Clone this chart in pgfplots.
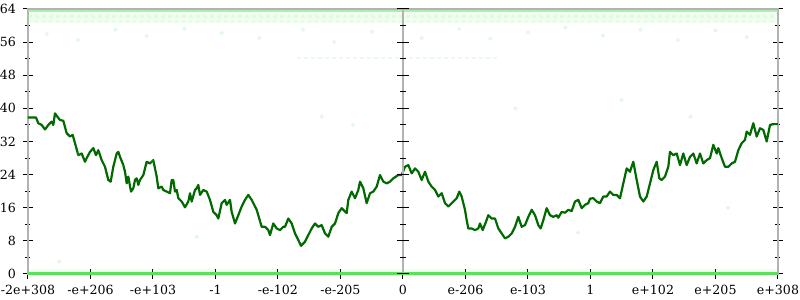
\documentclass[border=0pt]{standalone}
\usepackage{fontspec}
\setmainfont{DejaVu Serif}
\usepackage{pgfplots}
\pgfplotsset{compat=1.18}
\definecolor{lg}{RGB}{0,105,0}
\definecolor{bg}{RGB}{90,225,90}
\begin{document}
\begin{tikzpicture}
\begin{axis}[name=ax, scale only axis, width=375pt, height=132.5pt,
  xmin=-6, xmax=6, ymin=0, ymax=64, clip=false,
  xtick={-6,-5,...,6},
  xticklabels={-2e+308,-e+206,-e+103,-1,-e-102,-e-205,0,e-206,e-103,1,e+102,e+205,e+308},
  ytick={0,8,...,64}, minor ytick={4,12,...,60},
  tick align=center, xtick pos=bottom, ytick pos=both, yticklabel pos=left,
  major tick length=5pt, minor tick length=2.5pt,
  tick style={black, line width=0.5pt},
  axis line style={black!30, line width=1pt},
  ticklabel style={font=\fontsize{6.3}{7}\selectfont},
  xticklabel style={yshift=0.5pt},
  /pgf/number format/assume math mode=true,
]
% faint density bands
\addplot[draw=none, fill=bg, fill opacity=0.08] coordinates {(-6,60.5)(6,60.5)(6,63.8)(-6,63.8)} -- cycle;
\addplot[draw=none, fill=bg, fill opacity=0.08] coordinates {(-6,0)(6,0)(6,1.2)(-6,1.2)} -- cycle;
\addplot[bg!60!white, line width=1pt, opacity=0.8] coordinates {(-6,63.6)(6,63.6)};
\addplot[bg!40!white, line width=1.2pt, dash pattern=on 2pt off 1.5pt, opacity=0.3] coordinates {(-6,62.2)(6,62.2)};
\addplot[bg!40!white, line width=1.2pt, dash pattern=on 1.5pt off 2pt, opacity=0.2] coordinates {(-6,61)(6,61)};
\addplot[bg!30!white, line width=1pt, dash pattern=on 2pt off 1.5pt, opacity=0.4] coordinates {(-1.7,52.2)(1.5,52.2)};
\addplot[only marks, mark=*, mark size=0.9pt, color=bg, opacity=0.12] coordinates {
(-5.7,58)(-5.2,56.5)(-4.6,59)(-4.1,57.5)(-3.5,59.3)(-2.9,58.2)(-2.3,57)(-1.6,59)(-1.1,56)(-0.5,58.5)(0.3,57)(0.9,59.2)(1.4,56.8)(2.0,58.4)(2.6,59.5)(3.2,57.6)(3.8,59)(4.4,56.5)(5.0,58.8)(5.5,57.2)
(-5.2,29)(-4.5,26)(-4.0,27.2)(-1.3,38)(-0.8,36)(1.8,40)(3.5,42)(4.6,38)(5.2,16)(-5.5,3)(2.8,10)(-3.3,9)};
\addplot[bg, line width=1.5pt] coordinates {(-6,0)(6,0)};
% main series
\addplot[lg, line width=1.1pt, line join=round] coordinates {
(-6,37.8)(-5.872,37.8)(-5.835,36.4)(-5.781,36.0)(-5.728,34.9)(-5.675,36.0)(-5.621,36.8)(-5.595,36.0)(-5.568,38.8)(-5.541,38.2)
(-5.488,37.2)(-5.435,37.0)(-5.381,34.0)(-5.328,33.2)(-5.285,33.6)(-5.248,31.6)(-5.195,28.7)(-5.141,29.1)(-5.088,27.1)(-5.061,28.0)
(-5.008,29.5)(-4.955,30.4)(-4.912,28.7)(-4.875,29.9)(-4.821,27.5)(-4.768,25.9)(-4.715,22.7)(-4.677,22.3)(-4.635,25.9)(-4.581,29.1)
(-4.555,29.5)(-4.528,28.3)(-4.475,26.3)(-4.448,24.7)(-4.421,21.9)(-4.395,23.5)(-4.352,19.9)(-4.315,20.7)(-4.288,22.7)(-4.261,23.1)
(-4.235,21.5)(-4.208,22.7)(-4.155,23.9)(-4.101,27.1)(-4.048,26.7)(-3.995,27.5)(-3.941,23.5)(-3.915,20.7)(-3.861,21.1)(-3.835,20.3)
(-3.781,19.9)(-3.728,19.5)(-3.701,22.7)(-3.675,22.7)(-3.648,19.9)(-3.621,20.3)(-3.595,18.3)(-3.541,17.5)(-3.488,16.1)(-3.435,17.5)
(-3.408,19.5)(-3.381,17.5)(-3.328,20.3)(-3.301,20.7)(-3.275,21.5)(-3.248,19.1)(-3.195,20.3)(-3.141,19.9)(-3.088,17.9)(-3.035,15.0)
(-2.981,14.2)(-2.955,13.4)(-2.901,17.1)(-2.848,17.9)(-2.821,16.7)(-2.768,17.9)(-2.741,15.0)(-2.688,12.2)(-2.635,14.2)(-2.581,16.3)
(-2.528,17.9)(-2.475,19.1)(-2.421,17.9)(-2.341,15.5)(-2.261,11.4)(-2.208,11.4)(-2.155,10.6)(-2.128,9.4)(-2.075,12.2)(-2.021,11.0)
(-1.968,10.6)(-1.915,11.4)(-1.888,11.4)(-1.835,13.4)(-1.781,12.2)(-1.728,9.8)(-1.675,8.2)(-1.632,6.8)(-1.568,7.8)(-1.515,9.4)
(-1.461,11.0)(-1.408,12.2)(-1.355,11.4)(-1.301,11.8)(-1.248,9.8)(-1.195,9.0)(-1.141,11.4)(-1.088,12.2)(-1.035,14.7)(-0.981,15.9)
(-0.901,14.7)(-0.875,17.9)(-0.821,19.9)(-0.768,18.3)(-0.715,20.3)(-0.688,22.3)(-0.635,20.7)(-0.581,17.1)(-0.528,19.5)(-0.475,19.9)
(-0.421,21.1)(-0.368,23.9)(-0.315,22.3)(-0.261,21.9)(-0.208,22.3)(-0.155,23.1)(-0.075,23.9)(-0.021,23.9)(0.032,25.9)(0.085,26.3)
(0.139,24.3)(0.192,25.5)(0.245,24.7)(0.299,22.7)(0.352,24.7)(0.405,22.3)(0.459,21.1)(0.512,20.3)(0.565,18.7)(0.619,19.5)
(0.672,17.1)(0.725,16.3)(0.779,17.1)(0.859,18.3)(0.901,19.9)(0.939,18.7)(0.992,15.5)(1.019,13.0)(1.045,11.0)(1.099,11.0)
(1.152,10.6)(1.205,11.0)(1.232,12.2)(1.275,10.6)(1.328,12.6)(1.365,14.2)(1.419,13.4)(1.472,13.4)(1.525,11.0)(1.579,9.8)
(1.632,8.6)(1.685,9.0)(1.739,9.8)(1.792,11.4)(1.845,13.8)(1.899,11.4)(1.952,11.8)(2.005,13.8)(2.059,15.5)(2.112,14.2)
(2.165,11.8)(2.203,11.0)(2.245,13.0)(2.299,15.9)(2.352,14.2)(2.405,13.8)(2.459,14.2)(2.485,13.6)(2.539,15.0)(2.592,14.8)
(2.645,15.5)(2.699,15.2)(2.752,17.5)(2.805,17.9)(2.859,15.9)(2.912,16.7)(2.965,17.1)(2.992,18.2)(3.045,18.3)(3.099,17.5)
(3.152,17.1)(3.205,18.7)(3.259,18.7)(3.312,19.9)(3.365,19.1)(3.419,19.1)(3.472,18.3)(3.525,21.9)(3.579,25.5)(3.632,24.7)
(3.685,27.1)(3.739,22.7)(3.792,18.7)(3.845,17.5)(3.899,18.7)(3.952,21.9)(4.005,25.1)(4.059,27.1)(4.101,23.1)(4.139,22.7)
(4.192,23.5)(4.245,25.9)(4.272,29.5)(4.325,28.7)(4.379,29.1)(4.432,26.3)(4.485,29.1)(4.539,26.3)(4.592,28.3)(4.645,29.1)
(4.699,26.7)(4.752,29.1)(4.805,26.7)(4.859,27.5)(4.912,28.0)(4.965,31.2)(5.019,29.1)(5.045,30.4)(5.099,28.0)(5.152,25.9)
(5.205,25.9)(5.259,26.7)(5.312,27.1)(5.365,29.9)(5.419,31.6)(5.472,32.4)(5.499,34.4)(5.552,33.6)(5.605,36.4)(5.659,33.2)
(5.712,35.2)(5.765,34.8)(5.819,32.0)(5.872,36.0)(5.925,36.2)(6,36.2)};
% middle axis line with ticks
\draw[black!30, line width=1pt] (axis cs:0,0) -- (axis cs:0,64);
\pgfplotsinvokeforeach{0,8,16,24,32,40,48,56,64}{\draw[black, line width=0.5pt] ([xshift=-3pt]axis cs:0,#1) -- ([xshift=3pt]axis cs:0,#1);}
\pgfplotsinvokeforeach{4,12,20,28,36,44,52,60}{\draw[black, line width=0.5pt] ([xshift=-1.5pt]axis cs:0,#1) -- ([xshift=1.5pt]axis cs:0,#1);}
\end{axis}
\pgfresetboundingbox
\path[use as bounding box] ([xshift=-14pt,yshift=-13pt]ax.south west) rectangle ([xshift=11pt,yshift=4.5pt]ax.north east);
\end{tikzpicture}
\end{document}
